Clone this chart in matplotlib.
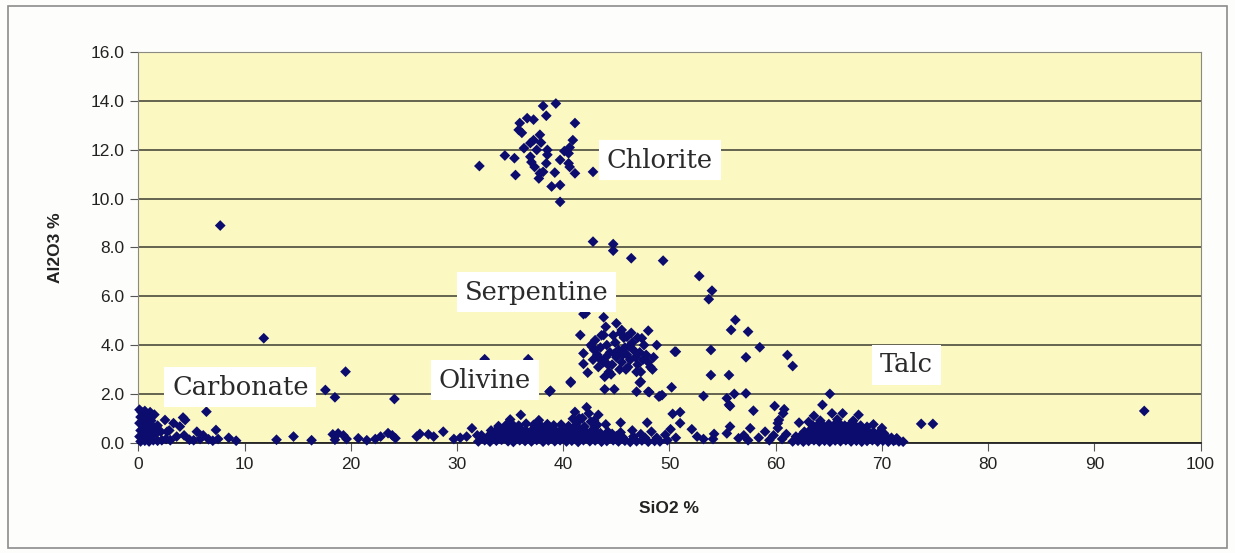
import matplotlib
matplotlib.use("Agg")
import matplotlib.pyplot as plt
from matplotlib import patches

# scattered analyses (SiO2 %, Al2O3 %)
chlorite_x = [32.1, 34.5, 35.4, 35.5, 35.9, 35.8, 36.1, 36.6, 37.2, 38.1, 39.3, 38.4, 36.3, 36.9,
              37.2, 37.8, 37.9, 37.5, 36.9, 37.0, 37.3, 37.8, 37.7, 38.1, 38.5, 38.5, 38.4, 39.2,
              38.9, 39.7, 39.7, 39.7, 40.5, 40.6, 40.9, 41.1, 40.5, 40.6, 41.1, 42.8, 40.1]
chlorite_y = [11.34, 11.77, 11.66, 10.97, 13.1, 12.82, 12.7, 13.3, 13.24, 13.8, 13.9, 13.4, 12.07, 12.28,
              12.4, 12.62, 12.3, 12.0, 11.72, 11.5, 11.3, 11.04, 10.83, 11.1, 12.0, 11.8, 11.45, 11.07,
              10.5, 10.56, 9.87, 11.59, 11.86, 12.1, 12.4, 13.1, 11.45, 11.3, 11.04, 11.1, 11.95]

serpentine_x = [41.9, 43.8, 45.0, 41.6, 44.0, 43.8, 45.5, 46.0, 48.0, 47.4, 48.8, 50.6, 42.7, 41.9,
                41.9, 42.3, 40.7, 38.8, 43.9, 44.8, 46.9, 48.0, 49.0, 49.3, 50.2, 47.3, 40.7, 47.2,
                48.1, 49.1, 53.2, 50.5,
                43.0, 43.5, 43.2, 43.8, 44.1, 44.4, 44.0, 44.6, 44.3, 44.9, 45.2, 45.0, 45.5, 45.3,
                45.8, 46.0, 45.7, 46.3, 46.1, 46.6, 46.8, 46.5, 47.0, 47.2, 47.5, 47.3, 47.8, 48.0,
                48.2, 47.6, 43.3, 42.8, 42.9, 43.6, 44.7, 45.9, 46.9, 44.5, 45.4, 46.4, 42.6, 43.9,
                48.5, 48.4, 47.0, 44.2, 45.6, 46.2, 44.8, 43.4]
serpentine_y = [5.27, 5.14, 4.89, 4.41, 4.75, 4.41, 4.62, 4.34, 4.59, 4.28, 4.0, 3.73, 3.93, 3.66,
                3.23, 2.87, 2.5, 2.13, 2.19, 2.19, 2.09, 2.09, 1.89, 1.95, 2.27, 2.5, 2.46, 2.46,
                2.07, 1.91, 1.91, 3.73,
                4.2, 3.9, 3.6, 3.3, 4.0, 3.7, 3.5, 3.2, 2.9, 4.1, 3.8, 3.5, 3.3, 3.0,
                3.9, 3.6, 4.3, 3.4, 3.1, 3.8, 3.5, 4.1, 3.2, 3.7, 3.4, 2.9, 3.6, 3.3,
                3.1, 4.0, 3.1, 3.4, 3.8, 4.4, 4.4, 3.0, 2.9, 2.8, 4.5, 4.5, 4.0, 2.7,
                3.5, 3.0, 4.3, 3.2, 3.6, 3.95, 3.65, 3.45]

trend_x = [42.8, 44.7, 44.7, 46.4, 49.4, 52.8, 54.0, 53.7, 56.2, 55.8, 57.4, 58.5, 61.1, 61.6,
           57.2, 53.9, 53.9, 55.6, 55.4, 55.6, 56.1, 57.2, 55.7, 57.9, 59.9, 60.8, 60.7, 60.3,
           60.2, 65.1, 64.4, 65.3, 66.3, 67.8, 63.6, 62.2, 42.1, 32.6, 36.7, 73.7, 74.8, 94.7]
trend_y = [8.24, 8.14, 7.87, 7.56, 7.46, 6.83, 6.23, 5.88, 5.03, 4.62, 4.55, 3.91, 3.59, 3.14,
           3.5, 3.8, 2.77, 2.77, 1.82, 1.55, 2.0, 2.02, 1.5, 1.31, 1.5, 1.37, 1.2, 0.93,
           0.8, 2.0, 1.55, 1.2, 1.2, 1.14, 1.1, 0.82, 5.3, 3.42, 3.42, 0.77, 0.77, 1.3]

scatter_low_x = [36.0, 41.1, 42.2, 42.4, 41.8, 43.3, 41.3, 42.6, 43.2, 45.4, 47.9, 50.3, 51.0, 51.0,
                 52.1, 49.6, 49.8, 50.1, 53.2, 54.1, 54.2, 55.4, 55.7, 56.5, 57.0, 57.6, 57.4, 58.4,
                 59.0, 59.4, 59.8, 60.2, 60.6, 61.0, 52.6, 50.6, 48.8, 38.7]
scatter_low_y = [1.14, 1.26, 1.45, 1.2, 1.0, 1.14, 0.82, 0.86, 0.73, 0.82, 0.82, 1.18, 1.25, 0.8,
                 0.55, 0.32, 0.1, 0.55, 0.15, 0.15, 0.36, 0.38, 0.66, 0.18, 0.3, 0.59, 0.1, 0.2,
                 0.45, 0.1, 0.3, 0.6, 0.15, 0.35, 0.25, 0.2, 0.2, 2.09]

carbonate_x = [0.1, 0.3, 0.6, 0.2, 0.5, 0.9, 0.1, 0.4, 0.8, 1.2, 0.2, 0.6, 1.0, 1.4, 1.8, 0.1, 0.5,
               0.9, 1.3, 1.7, 2.1, 0.2, 0.6, 1.0, 1.4, 1.8, 2.2, 2.6, 3.0, 1.5, 1.1,
               2.5, 3.3, 4.2, 4.4, 6.4, 3.9, 2.7, 5.5, 7.3, 5.8, 4.3, 4.8, 5.2, 6.6, 7.0, 7.5,
               8.5, 9.2, 3.6, 2.9, 6.1, 7.7, 11.8, 19.5, 17.6, 18.5, 24.1]
carbonate_y = [1.35, 1.25, 1.3, 1.05, 1.0, 1.1, 0.8, 0.75, 0.85, 0.9, 0.5, 0.55, 0.6, 0.65, 0.7, 0.25,
               0.3, 0.3, 0.35, 0.4, 0.45, 0.05, 0.08, 0.05, 0.1, 0.08, 0.1, 0.15, 0.1, 1.15, 1.25,
               0.93, 0.8, 1.03, 0.93, 1.27, 0.66, 0.45, 0.45, 0.52, 0.15, 0.3, 0.12, 0.1, 0.14, 0.08,
               0.15, 0.2, 0.08, 0.25, 0.5, 0.3, 8.9, 4.28, 2.91, 2.16, 1.86, 1.79]

sparse_x = [13.0, 14.6, 16.3, 18.3, 18.8, 19.3, 18.5, 19.6, 20.7, 21.5, 22.3, 22.8, 23.5, 24.2,
            23.9, 26.2, 26.5, 27.3, 27.8, 28.7, 29.7, 30.3, 30.9, 31.4, 31.9]
sparse_y = [0.12, 0.25, 0.1, 0.34, 0.38, 0.3, 0.12, 0.15, 0.18, 0.1, 0.15, 0.25, 0.39, 0.18,
            0.3, 0.25, 0.36, 0.34, 0.25, 0.45, 0.15, 0.2, 0.25, 0.59, 0.3]

olivine_x = [32.0, 32.6, 33.1, 33.7, 34.2, 34.8, 35.3, 35.9, 36.4, 37.0, 37.5, 38.1, 38.6, 39.2,
             39.7, 40.3, 40.8, 41.4, 41.9, 42.5, 43.0, 43.6, 44.1, 44.7, 45.2, 45.8, 46.3, 46.9,
             47.4, 48.0, 48.6, 49.1,
             32.3, 32.9, 33.4, 34.0, 34.5, 35.1, 35.6, 36.2, 36.7, 37.3, 37.8, 38.4, 38.9, 39.5,
             40.0, 40.6, 41.1, 41.7, 42.2, 42.8, 43.3, 43.9, 44.4, 45.0, 45.6, 46.6, 47.7,
             33.2, 33.8, 34.3, 34.9, 35.4, 36.0, 36.5, 37.1, 37.6, 38.2, 38.7, 39.3, 39.8, 40.4,
             40.9, 41.5, 42.0, 42.6, 43.1, 44.2, 45.4,
             33.9, 34.6, 35.2, 35.8, 36.5, 37.2, 37.9, 38.5, 39.1, 39.8, 40.5, 41.2, 42.0, 43.0,
             35.0, 37.7, 40.9, 42.9, 41.5, 44.0, 46.5, 47.3, 48.3,
             32.8, 33.5, 34.1, 34.7, 35.4, 36.0, 36.6, 37.2, 37.9, 38.5, 39.1, 39.7, 40.3, 41.0,
             41.6, 42.3, 42.9, 43.6, 44.3, 45.0, 45.7,
             33.6, 34.2, 34.9, 35.5, 36.2, 36.8, 37.5, 38.1, 38.8, 39.4, 40.1, 40.7, 41.4, 42.1,
             42.8, 43.5, 44.6]
olivine_y = [0.05, 0.1, 0.04, 0.08, 0.12, 0.06, 0.03, 0.1, 0.07, 0.05, 0.11, 0.04, 0.09, 0.06,
             0.1, 0.05, 0.08, 0.03, 0.1, 0.06, 0.09, 0.04, 0.07, 0.1, 0.05, 0.08, 0.03, 0.06,
             0.09, 0.04, 0.07, 0.05,
             0.3, 0.25, 0.32, 0.28, 0.35, 0.27, 0.31, 0.26, 0.33, 0.29, 0.25, 0.34, 0.28, 0.3,
             0.26, 0.33, 0.29, 0.27, 0.31, 0.25, 0.3, 0.28, 0.24, 0.27, 0.22, 0.25, 0.2,
             0.5, 0.55, 0.48, 0.53, 0.5, 0.56, 0.49, 0.52, 0.57, 0.5, 0.54, 0.48, 0.53, 0.51,
             0.55, 0.49, 0.5, 0.46, 0.44, 0.45, 0.42,
             0.68, 0.72, 0.75, 0.7, 0.78, 0.73, 0.69, 0.76, 0.71, 0.74, 0.68, 0.72, 0.66, 0.64,
             0.95, 0.92, 0.98, 0.9, 1.0, 0.75, 0.5, 0.35, 0.45,
             0.17, 0.19, 0.15, 0.18, 0.16, 0.2, 0.17, 0.15, 0.19, 0.16, 0.18, 0.15, 0.2, 0.17,
             0.16, 0.18, 0.15, 0.17, 0.16, 0.14, 0.15,
             0.4, 0.42, 0.39, 0.43, 0.4, 0.41, 0.44, 0.39, 0.42, 0.4, 0.43, 0.38, 0.41, 0.4,
             0.37, 0.39, 0.36]

talc_x = [61.6, 62.1, 62.6, 63.1, 63.6, 64.1, 64.6, 65.1, 65.6, 66.1, 66.6, 67.1, 67.6, 68.1,
          68.6, 69.1, 69.6, 70.1, 70.6, 71.1, 71.6, 72.0,
          61.9, 62.4, 62.9, 63.4, 63.9, 64.4, 64.9, 65.4, 65.9, 66.4, 66.9, 67.4, 67.9, 68.4,
          68.9, 69.4, 69.9, 70.4, 70.9, 71.4,
          62.7, 63.2, 63.7, 64.2, 64.7, 65.2, 65.7, 66.2, 66.7, 67.2, 67.7, 68.2, 68.7, 69.2,
          69.7, 70.2,
          63.5, 64.0, 64.5, 65.0, 65.5, 66.0, 66.5, 67.0, 67.5, 68.0, 68.6,
          64.2, 65.8, 67.3, 63.1, 69.2, 70.0,
          62.3, 62.9, 63.5, 64.1, 64.7, 65.3, 65.9, 66.5, 67.1, 67.7, 68.3, 68.9, 69.5, 70.1,
          70.7, 71.3,
          63.0, 63.6, 64.2, 64.8, 65.4, 66.0, 66.6, 67.2, 67.8, 68.4, 69.0, 69.6,
          64.3, 64.9, 65.5, 66.1, 66.7, 67.3, 67.9]
talc_y = [0.05, 0.08, 0.04, 0.07, 0.1, 0.05, 0.08, 0.04, 0.09, 0.06, 0.1, 0.05, 0.08, 0.04,
          0.07, 0.1, 0.05, 0.08, 0.04, 0.07, 0.05, 0.04,
          0.25, 0.3, 0.27, 0.32, 0.28, 0.31, 0.26, 0.3, 0.33, 0.27, 0.29, 0.32, 0.26, 0.3,
          0.28, 0.25, 0.27, 0.23, 0.2, 0.18,
          0.45, 0.5, 0.52, 0.48, 0.55, 0.5, 0.53, 0.49, 0.56, 0.51, 0.5, 0.48, 0.45, 0.44,
          0.4, 0.38,
          0.7, 0.74, 0.68, 0.76, 0.72, 0.78, 0.7, 0.74, 0.69, 0.7, 0.65,
          0.9, 0.95, 0.9, 0.85, 0.75, 0.6,
          0.17, 0.15, 0.18, 0.16, 0.19, 0.15, 0.17, 0.18, 0.16, 0.15, 0.18, 0.16, 0.17, 0.15,
          0.13, 0.12,
          0.38, 0.4, 0.42, 0.39, 0.41, 0.4, 0.43, 0.39, 0.41, 0.38, 0.36, 0.33,
          0.62, 0.6, 0.64, 0.61, 0.63, 0.6, 0.58]

labels = ["Chlorite", "Serpentine", "Olivine", "Carbonate", "Talc"]
label_x = [49.1, 37.5, 32.6, 9.6, 72.3]
label_y = [11.58, 6.17, 2.56, 2.28, 3.19]

navy = "#0c0c6e"
fig = plt.figure(figsize=(12.35, 5.53), dpi=100, facecolor="#fdfdfb")
ax = fig.add_axes([0.1121, 0.1995, 0.8600, 0.7059])
ax.set_facecolor("#fbf8c2")

groups = [(chlorite_x, chlorite_y), (serpentine_x, serpentine_y), (trend_x, trend_y),
          (scatter_low_x, scatter_low_y), (carbonate_x, carbonate_y), (sparse_x, sparse_y),
          (olivine_x, olivine_y), (talc_x, talc_y)]
for gx, gy in groups:
    ax.scatter(gx, gy, marker="D", s=30, color=navy, edgecolors="none", zorder=3, clip_on=False)

ax.set_xlim(0, 100)
ax.set_ylim(0, 16)
ax.set_xticks(range(0, 101, 10))
ax.set_yticks([0, 2, 4, 6, 8, 10, 12, 14, 16])
ax.set_yticklabels([f"{v:.1f}" for v in range(0, 17, 2)])
ax.grid(axis="y", color="#4b4b3c", linewidth=1.2, zorder=1)
for side in ["top", "right", "left"]:
    ax.spines[side].set_color("#8a8a80")
ax.spines["bottom"].set_color("#222222")
ax.spines["bottom"].set_linewidth(1.3)
ax.tick_params(axis="both", direction="out", length=6, color="#555555",
               labelsize=12.5, labelcolor="#222222", pad=4)
for lab in ax.get_xticklabels() + ax.get_yticklabels():
    lab.set_family("Liberation Sans")

ax.set_xlabel("SiO2 %", fontsize=12.5, fontweight="bold", family="Liberation Sans",
              color="#222222", labelpad=21)
ax.set_ylabel("Al2O3 %", fontsize=12.5, fontweight="bold", family="Liberation Sans",
              color="#222222", labelpad=20)

for text, lx, ly in zip(labels, label_x, label_y):
    ax.text(lx, ly, text, fontsize=18.5, family="DejaVu Serif", color="#2a2a2a",
            ha="center", va="center", zorder=5,
            bbox=dict(boxstyle="square,pad=0.3", facecolor="white", edgecolor="none"))

frame = patches.Rectangle((8 / 1235, 5 / 553), 1219 / 1235, 542 / 553, transform=fig.transFigure,
                          fill=False, edgecolor="#8c8c8c", linewidth=1.2)
fig.patches.append(frame)

fig.savefig("out.png", dpi=100, facecolor=fig.get_facecolor())
